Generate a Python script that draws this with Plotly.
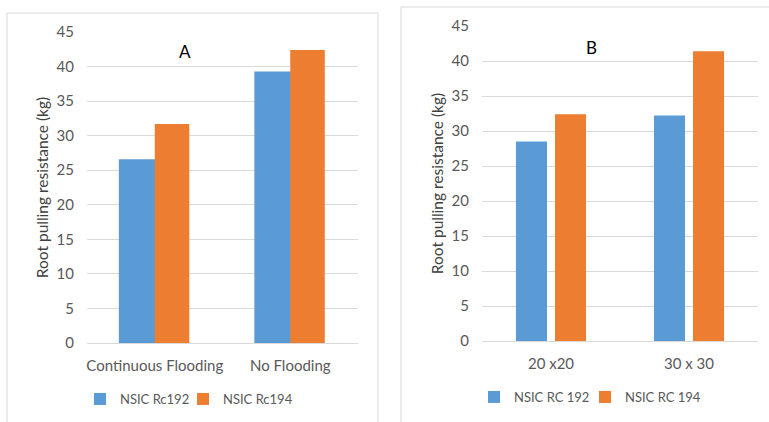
import plotly.graph_objects as go

# Panel A: water regime
cats_a = ["Continuous Flooding", "No Flooding"]
rc192_a = [26.6, 39.3]
rc194_a = [31.7, 42.4]

# Panel B: plant spacing
cats_b = ["20 x20", "30 x 30"]
rc192_b = [28.5, 32.2]
rc194_b = [32.4, 41.4]

yticks = [0, 5, 10, 15, 20, 25, 30, 35, 40, 45]

W, H = 769, 422
BLUE = "#5b9bd5"
ORANGE = "#ed7d31"
GREY = "#595959"
GRID = "#d9d9d9"
FONT = "Lato"


def px(x):
    return x / W


def py(y):
    return 1 - y / H


fig = go.Figure()

# Panel A bars (adjacent, no gap within a group; blue tucks just under orange)
fig.add_trace(go.Bar(x=cats_a, y=rc192_a, name="NSIC Rc192", marker_color=BLUE,
                     marker_line_width=0, width=0.272, offset=-0.265,
                     xaxis="x", yaxis="y", legend="legend"))
fig.add_trace(go.Bar(x=cats_a, y=rc194_a, name="NSIC Rc194", marker_color=ORANGE,
                     marker_line_width=0, width=0.255, offset=0.0,
                     xaxis="x", yaxis="y", legend="legend2"))

# Panel B bars (small gap between the two varieties)
fig.add_trace(go.Bar(x=cats_b, y=rc192_b, name="NSIC RC 192", marker_color=BLUE,
                     marker_line_width=0, width=0.225, offset=-0.254,
                     xaxis="x2", yaxis="y2", legend="legend3"))
fig.add_trace(go.Bar(x=cats_b, y=rc194_b, name="NSIC RC 194", marker_color=ORANGE,
                     marker_line_width=0, width=0.225, offset=0.029,
                     xaxis="x2", yaxis="y2", legend="legend4"))

axis_font = dict(family=FONT, size=15, color=GREY)
legend_font = dict(family=FONT, size=13, color=GREY)

yaxis_common = dict(range=[0, 45], tickvals=yticks, showgrid=True, gridcolor=GRID,
                    gridwidth=1, zeroline=True, zerolinecolor=GRID, zerolinewidth=1,
                    showline=False, ticks="", tickfont=axis_font, ticklabelstandoff=12,
                    automargin=False,
                    title=dict(text="Root pulling resistance (kg)",
                               font=dict(family=FONT, size=15.5, color="#404040"),
                               standoff=4))
xaxis_common = dict(showgrid=False, showline=False, ticks="", tickfont=axis_font,
                    ticklabelstandoff=12, automargin=False)

# one single-entry legend per series so each key sits exactly under its panel
legend_common = dict(orientation="h", xanchor="left", yanchor="middle", font=legend_font,
                     bgcolor="rgba(0,0,0,0)", itemwidth=30, tracegroupgap=0)

fig.update_layout(
    width=W, height=H,
    margin=dict(l=0, r=0, t=0, b=0, autoexpand=False),
    paper_bgcolor="white", plot_bgcolor="white",
    barmode="group",
    xaxis=dict(domain=[px(87), px(358)], anchor="y", range=[-0.5, 1.5], **xaxis_common),
    yaxis=dict(domain=[py(343), py(32)], anchor="x", **yaxis_common),
    xaxis2=dict(domain=[px(482), px(758)], anchor="y2", range=[-0.5, 1.5], **xaxis_common),
    yaxis2=dict(domain=[py(341), py(26)], anchor="x2", **yaxis_common),
    legend=dict(x=px(80), y=py(399), **legend_common),
    legend2=dict(x=px(183), y=py(399), **legend_common),
    legend3=dict(x=px(474), y=py(397), **legend_common),
    legend4=dict(x=px(585), y=py(397), **legend_common),
    showlegend=True,
    annotations=[
        dict(text="A", x=px(185), y=py(52), xref="paper", yref="paper", showarrow=False,
             xanchor="center", yanchor="middle", font=dict(family=FONT, size=17, color="black")),
        dict(text="B", x=px(591), y=py(48), xref="paper", yref="paper", showarrow=False,
             xanchor="center", yanchor="middle", font=dict(family=FONT, size=17, color="black")),
    ],
    shapes=[
        # chart frames
        dict(type="rect", xref="paper", yref="paper", x0=px(7), x1=px(378), y0=py(430), y1=py(13),
             line=dict(color=GRID, width=1), fillcolor="rgba(0,0,0,0)", layer="below"),
        dict(type="rect", xref="paper", yref="paper", x0=px(401), x1=px(780), y0=py(430), y1=py(7),
             line=dict(color=GRID, width=1), fillcolor="rgba(0,0,0,0)", layer="below"),
    ],
)

fig.write_html("out.html")
